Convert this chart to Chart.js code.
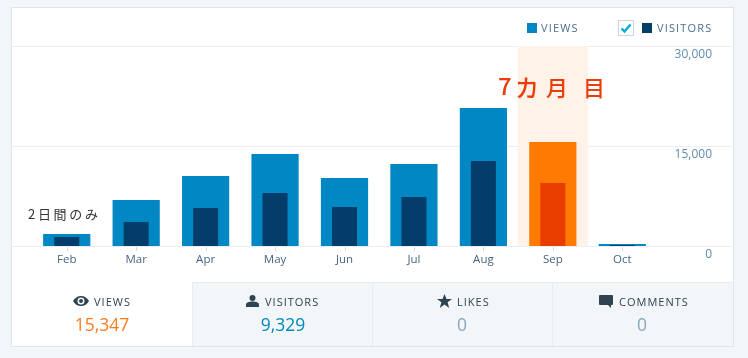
<!DOCTYPE html>
<html><head><meta charset="utf-8">
<script src="https://cdn.jsdelivr.net/npm/chart.js@4"></script>
<style>
html,body{margin:0;padding:0;width:748px;height:358px;overflow:hidden;background:#f3f6f8;font-family:"Open Sans",sans-serif}
#card{position:absolute;left:11px;top:7px;width:721px;height:338px;background:#fff;border:1px solid #dde6ed}
canvas{position:absolute;left:0;top:0}
.abs{position:absolute;white-space:nowrap}
.tile{position:absolute;top:282px;height:63px;background:#f3f6f8;border-top:1px solid #e4ebf1;border-left:1px solid #e4ebf1;box-sizing:content-box}
.lg{font-size:11px;letter-spacing:1.15px;color:#4a7091;line-height:14px;font-weight:500}
.sq{position:absolute;width:10px;height:10px}
.th{font-size:11px;letter-spacing:1px;color:#2e4453;line-height:14px;font-weight:500}
.val{font-size:17.500px;line-height:24px;transform:translateX(-50%)}
.hand{font-family:"Noto Sans CJK JP",sans-serif}
</style></head><body>
<div id="card"></div>
<div class="tile" style="left:192px;width:179px"></div>
<div class="tile" style="left:372px;width:179px"></div>
<div class="tile" style="left:552px;width:180px"></div>
<canvas id="c" width="748" height="358"></canvas>

<div class="sq" style="left:527px;top:23px;background:#0087c4"></div>
<div class="abs lg" style="left:541px;top:21px">VIEWS</div>
<svg class="abs" style="left:618px;top:20px" width="16" height="16" viewBox="0 0 16 16"><rect x=".5" y=".5" width="15" height="15" fill="#fff" stroke="#c8d7e1"/><path d="M3.500 8.500l3 3 6-7" fill="none" stroke="#00aadc" stroke-width="2.400"/></svg>
<div class="sq" style="left:642px;top:23px;background:#033e6b"></div>
<div class="abs lg" style="left:657px;top:21px">VISITORS</div>

<div class="abs hand" style="left:498px;top:68px;font-size:24px;line-height:34px;font-weight:500;color:#ec3d08">7</div>
<div class="abs hand" style="left:515px;top:70px;font-size:24px;line-height:34px;font-weight:500;color:#ec3d08">カ</div>
<div class="abs hand" style="left:546px;top:69px;font-size:22px;line-height:34px;font-weight:500;color:#ec3d08">月</div>
<div class="abs hand" style="left:583px;top:69px;font-size:22px;line-height:34px;font-weight:500;color:#ec3d08">目</div>
<div class="abs hand" style="left:28px;top:204px;font-size:13px;line-height:20px;letter-spacing:2.700px;color:#333">2日間のみ</div>

<svg class="abs" style="left:73px;top:295px" width="16" height="12" viewBox="0 0 16 12"><path d="M8 1C4.500 1 1.600 3 0 6c1.600 3 4.500 5 8 5s6.400-2 8-5c-1.600-3-4.500-5-8-5zm0 8.500A3.500 3.500 0 1 1 8 2.500a3.500 3.500 0 0 1 0 7z" fill="#2e4453"/><circle cx="8" cy="6" r="2" fill="#2e4453"/></svg>
<div class="abs th" style="left:94px;top:295px">VIEWS</div>
<div class="abs val" style="left:102px;top:312px;color:#ff7a1a">15,347</div>

<svg class="abs" style="left:246px;top:295px" width="13" height="12" viewBox="0 0 13 12"><circle cx="6.500" cy="3" r="3" fill="#2e4453"/><path d="M0 12V9.500C0 7.500 3 6.500 6.500 6.500S13 7.500 13 9.500V12z" fill="#2e4453"/></svg>
<div class="abs th" style="left:265px;top:295px">VISITORS</div>
<div class="abs val" style="left:283px;top:312px;color:#0087be">9,329</div>

<svg class="abs" style="left:437px;top:294px" width="15" height="14" viewBox="0 0 15 14"><path d="M7.500 0l2 5h5.500l-4.400 3.300L12.200 14 7.500 10.600 2.800 14l1.600-5.700L0 5h5.500z" fill="#2e4453"/></svg>
<div class="abs th" style="left:457px;top:295px">LIKES</div>
<div class="abs val" style="left:462px;top:312px;color:#87a6bc">0</div>

<svg class="abs" style="left:599px;top:295px" width="14" height="14" viewBox="0 0 14 14"><path d="M1 0h12a1 1 0 0 1 1 1v8a1 1 0 0 1-1 1h-1v3l-3-3H1a1 1 0 0 1-1-1V1a1 1 0 0 1 1-1z" fill="#2e4453"/></svg>
<div class="abs th" style="left:619px;top:295px">COMMENTS</div>
<div class="abs val" style="left:642px;top:312px;color:#87a6bc">0</div>

<script>
const categories = ["Feb","Mar","Apr","May","Jun","Jul","Aug","Sep","Oct"];
const views = [1800,6900,10500,13800,10200,12300,20700,15600,300];
const visitors = [1350,3600,5700,7950,5850,7350,12750,9450,150];
const highlight = [null,null,null,null,null,null,null,30000,null];
const yTicks = [0,15000,30000];
const viewColors = categories.map(c => c==="Sep" ? "#ff7a00" : "#0087c4");
const visitorColors = categories.map(c => c==="Sep" ? "#e93d00" : "#033e6b");

const fullGrid = {
  id:"fullGrid",
  beforeDatasetsDraw(chart){
    const {ctx, scales:{y}} = chart;
    ctx.save();
    ctx.strokeStyle = "#e9eff4";
    ctx.lineWidth = 1;
    yTicks.forEach(t=>{
      const py = Math.round(y.getPixelForValue(t)) + 0.5;
      ctx.beginPath(); ctx.moveTo(12,py); ctx.lineTo(732,py); ctx.stroke();
    });
    ctx.restore();
  }
};

new Chart(document.getElementById("c"),{
  type:"bar",
  data:{labels:categories,datasets:[
    {label:"Visitors",data:visitors,backgroundColor:visitorColors,grouped:false,order:1,barPercentage:0.36,categoryPercentage:1},
    {label:"Views",data:views,backgroundColor:viewColors,grouped:false,order:2,barPercentage:0.68,categoryPercentage:1},
    {label:"Highlight",data:highlight,backgroundColor:"#fff2e8",grouped:false,order:3,barPercentage:1,categoryPercentage:1}
  ]},
  options:{
    responsive:false,animation:false,
    layout:{padding:{left:32,top:46,right:36,bottom:0}},
    plugins:{legend:{display:false},tooltip:{enabled:false}},
    scales:{
      x:{
        grid:{display:false,drawOnChartArea:false,tickLength:7},
        border:{display:false},
        afterFit(s){s.height=112;},
        ticks:{color:"#47657f",font:{family:"Open Sans",size:11.5},padding:0,maxRotation:0}
      },
      y:{
        position:"right",min:0,max:30000,
        grid:{display:false},
        border:{display:false},
        afterFit(s){s.width=55;},
        afterBuildTicks(s){s.ticks=yTicks.map(v=>({value:v}));},
        ticks:{color:"#5f8bad",font:{family:"Open Sans",size:12},crossAlign:"far",labelOffset:9,padding:0,
          callback:v=>v.toLocaleString("en-US")}
      }
    }
  },
  plugins:[fullGrid,{
    id:"xTicks",
    afterDatasetsDraw(chart){
      const {ctx,scales:{x,y}}=chart;const b=Math.round(y.getPixelForValue(0));
      ctx.save();ctx.strokeStyle="#cfdae3";
      categories.forEach((c,i)=>{const px=Math.round(x.getPixelForValue(i))+.5;ctx.beginPath();ctx.moveTo(px,b+1);ctx.lineTo(px,b+5);ctx.stroke();});
      ctx.restore();
    }
  }]
});
</script>
</body></html>
